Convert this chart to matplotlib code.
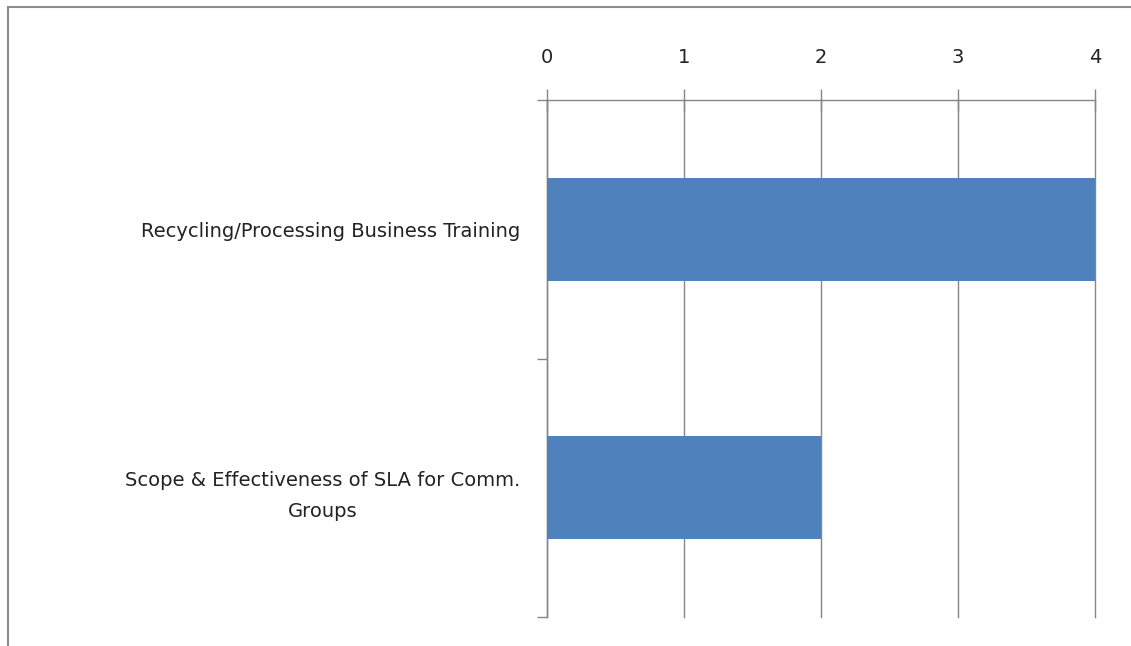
import matplotlib.pyplot as plt
from matplotlib.patches import Rectangle

# chart data
categories = ["Scope & Effectiveness of SLA for Comm.\nGroups",
              "Recycling/Processing Business Training"]
values = [2, 4]
xticks = [0, 1, 2, 3, 4]

bar_color = "#4F81BD"
line_color = "#868686"

fig = plt.figure(figsize=(11.31, 6.46), dpi=100)

# outer chart border (only left and top edges fall inside the image)
fig.patches.append(Rectangle((8 / 1131, -0.1), 1.2, 1 - 7 / 646 + 0.1,
                             transform=fig.transFigure, fill=False,
                             edgecolor="#8c8c8c", linewidth=1.5))

ax = fig.add_axes([547 / 1131, 1 - 617 / 646, 548 / 1131, 517 / 646])
ypos = list(range(len(categories)))
ax.barh(ypos, values, height=0.4, color=bar_color, zorder=3)

ax.set_xlim(0, 4)
ax.set_ylim(-0.5, 1.5)
ax.set_xticks(xticks)
ax.xaxis.set_ticks_position("top")
ax.xaxis.set_label_position("top")
ax.tick_params(axis="x", direction="inout", length=16, width=1, color=line_color,
               pad=16, labelsize=14, labelcolor="#222222")

# category ticks sit on the band edges, labels in the band centres
ax.set_yticks([-0.5, 0.5, 1.5])
ax.set_yticklabels([])
ax.tick_params(axis="y", direction="out", length=7, width=1, color=line_color)
ax.set_yticks(ypos, minor=True)
ax.set_yticklabels(categories, minor=True, fontsize=14, color="#222222",
                   multialignment="center", linespacing=1.8)
ax.tick_params(axis="y", which="minor", length=0, pad=19)

ax.grid(axis="x", color=line_color, linewidth=1, zorder=0)
for line in ax.get_xgridlines():
    line.set_clip_on(False)
for side in ["right", "bottom"]:
    ax.spines[side].set_visible(False)
for side in ["left", "top"]:
    ax.spines[side].set_color(line_color)
    ax.spines[side].set_linewidth(1)

fig.savefig("out.png", dpi=100)
